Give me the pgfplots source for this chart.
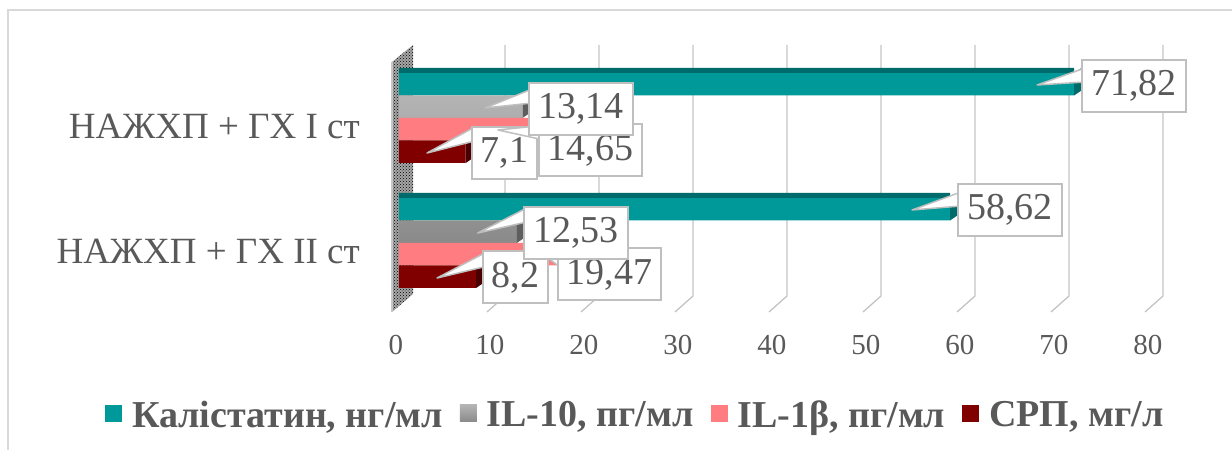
\documentclass[border=0pt]{standalone}
\usepackage{fontspec}
\setmainfont{Liberation Serif}
\usepackage{pgfplots}
\pgfplotsset{compat=1.18}
\usepackage{pgfplotstable}
\usetikzlibrary{patterns}

\definecolor{kal}{HTML}{009999}
\definecolor{kalside}{HTML}{006B6B}
\definecolor{iltentop}{HTML}{B4B4B4}
\definecolor{iltenbot}{HTML}{8A8A8A}
\definecolor{iltenside}{HTML}{5E5E5E}
\definecolor{ilbeta}{HTML}{FF7C80}
\definecolor{ilbetaside}{HTML}{C8585C}
\definecolor{srp}{HTML}{800000}
\definecolor{srpside}{HTML}{4A0000}
\definecolor{txt}{HTML}{595959}
\definecolor{boxline}{HTML}{BFBFBF}
\definecolor{gridc}{HTML}{C4C4C4}
\definecolor{framec}{HTML}{D9D9D9}

% c = category (1: I ст, 0: II ст), v = value.
% Offsets in pt from the bar end at the category line:
% dx/dy = label box centre, px/py = callout tip, bx/by = callout base on the box edge
\pgfplotstableread{
c v dx dy px py bx by
1 71.82 60 32 -37 33 11 43
0 58.62 60 33 -38 33 11 44
}\kaldata
\pgfplotstableread{
c v dx dy px py bx by
1 13.14 58.5 9 -37.5 10 9.5 22
0 12.53 59 10 -39 10 10 28
}\iltendata
\pgfplotstableread{
c v dx dy px py bx by
1 14.65 54 -32.5 -38.7 -12 5 -14.5
0 19.47 27.5 -31.5 -34 -15 -21.5 -17.5
}\ilbetadata
\pgfplotstableread{
c v dx dy px py bx by
1 7.1 39 -35 -38.7 -35 9 -16
0 8.2 39.5 -34.5 -39 -35 9.5 -16.5
}\srpdata

% right-hand face of a 3D bar, one mark per bar slot
\newcommand\declsidemark[2]{%
  \pgfdeclareplotmark{#1}{%
    \pgfpathmoveto{\pgfpoint{0pt}{#2pt-11.25pt}}%
    \pgfpathlineto{\pgfpoint{0pt}{#2pt+11.25pt}}%
    \pgfpathlineto{\pgfpoint{8pt}{#2pt+16.75pt}}%
    \pgfpathlineto{\pgfpoint{8pt}{#2pt-5.75pt}}%
    \pgfpathclose\pgfusepathqfill}}
\declsidemark{sideA}{33.75}
\declsidemark{sideB}{11.25}
\declsidemark{sideC}{-11.25}
\declsidemark{sideD}{-33.75}

% pointer of a value callout
\pgfdeclareplotmark{wedge}{%
  \pgfpathmoveto{\pgfpoint{\ptrx pt}{\ptry pt}}%
  \pgfpathlineto{\pgfpoint{\basex pt}{\basey pt+7pt}}%
  \pgfpathlineto{\pgfpoint{\basex pt}{\basey pt-7pt}}%
  \pgfpathclose\pgfusepathqfillstroke}

\pgfplotsset{
  sqlegend/.style={legend image code/.code={\fill[##1,draw=none] (0pt,-7pt) rectangle (17pt,10pt);}},
  barA/.style={xbar, bar width=22.5pt, bar shift=33.75pt, draw=none},
  barB/.style={xbar, bar width=22.5pt, bar shift=11.25pt, draw=none},
  barC/.style={xbar, bar width=22.5pt, bar shift=-11.25pt, draw=none},
  barD/.style={xbar, bar width=22.5pt, bar shift=-33.75pt, draw=none},
  ptr/.style={only marks, mark=wedge, forget plot,
    visualization depends on={\thisrow{px}\as\ptrx},
    visualization depends on={\thisrow{py}\as\ptry},
    visualization depends on={\thisrow{bx}\as\basex},
    visualization depends on={\thisrow{by}\as\basey},
    mark options={solid, fill=white, draw=boxline, line width=1.5pt, line join=round}},
  lbl/.style={xbar, bar width=22.5pt, draw=none, fill=none, forget plot, point meta=x,
    nodes near coords,
    visualization depends on={\thisrow{dx}\as\lblx},
    visualization depends on={\thisrow{dy}\as\lbly},
    every node near coord/.append style={
      rectangle, anchor=center, draw=boxline, line width=2pt, fill=white,
      text=txt, font=\fontsize{38}{40}\selectfont,
      minimum height=52pt, inner xsep=9pt,
      xshift=\lblx pt, yshift=\lbly pt}},
}

\begin{document}
\begin{tikzpicture}[x=1pt,y=1pt]
\useasboundingbox (0,0) rectangle (1232,450);
\draw[framec, line width=2pt] (8,0) -- (8,440) -- (1232,440);
% back wall and floor guide lines
\foreach \v in {10,20,...,80}{
  \draw[gridc, line width=1.3pt] ({411+9.4*\v},405) -- ({411+9.4*\v},154) -- ({393+9.4*\v},138);
}
% side wall
\fill[gray!70] (392,138) -- (392,388) -- (413,405) -- (413,156) -- cycle;
\fill[pattern=crosshatch dots, pattern color=black] (392,138) -- (392,388) -- (413,405) -- (413,156) -- cycle;
\draw[gray!45, line width=1.5pt] (392,138) -- (392,388);

\begin{axis}[
  at={(399pt,138pt)}, anchor=south west,
  scale only axis, width=752pt, height=267pt,
  xmin=0, xmax=80, ymin=-0.552, ymax=1.584,
  clip=false,
  axis line style={draw=none},
  tick style={draw=none},
  xtick={0,10,...,80},
  ytick={0,1},
  yticklabels={НАЖХП + ГХ ІІ ст, НАЖХП + ГХ І ст},
  /pgf/number format/.cd, use comma, 1000 sep={}, assume math mode=true, /pgfplots/.cd,
  xticklabel style={font=\fontsize{29}{30}\selectfont, text=txt, anchor=north, inner sep=0pt, yshift=-23pt, xshift=-3pt},
  yticklabel style={font=\fontsize{37}{40}\selectfont, text=txt, anchor=east, inner sep=0pt, xshift=-39pt, yshift=-8pt},
  legend columns=4,
  legend cell align=left,
  legend style={at={(0.313,-0.385)}, anchor=center, draw=none, fill=none,
    font=\bfseries\fontsize{38}{40}\selectfont, text=txt,
    nodes={inner sep=0pt},
    /tikz/every odd column/.append style={column sep=10pt},
    /tikz/every even column/.append style={column sep=17pt}},
]
% bars
\addplot[barA, fill=kal, sqlegend] table[x=v,y=c]{\kaldata};
\addlegendentry{Калістатин, нг/мл}
\addplot[xbar, bar width=5pt, bar shift=47.5pt, draw=none, fill=kalside, forget plot] table[x=v,y=c]{\kaldata};
\addplot[only marks, mark=sideA, color=kalside, forget plot] table[x=v,y=c]{\kaldata};

\addplot[barB, top color=iltentop, bottom color=iltenbot, sqlegend] table[x=v,y=c]{\iltendata};
\addlegendentry{IL-10, пг/мл}
\addplot[only marks, mark=sideB, color=iltenside, forget plot] table[x=v,y=c]{\iltendata};

\addplot[barC, fill=ilbeta, sqlegend] table[x=v,y=c]{\ilbetadata};
\addlegendentry{IL-1β, пг/мл}
\addplot[only marks, mark=sideC, color=ilbetaside, forget plot] table[x=v,y=c]{\ilbetadata};

\addplot[barD, fill=srp, sqlegend] table[x=v,y=c]{\srpdata};
\addlegendentry{СРП, мг/л}
\addplot[only marks, mark=sideD, color=srpside, forget plot] table[x=v,y=c]{\srpdata};

% value callouts, each pointer drawn just before its box
\addplot[ptr] table[x=v,y=c]{\kaldata};
\addplot[lbl] table[x=v,y=c]{\kaldata};
\addplot[ptr] table[x=v,y=c]{\srpdata};
\addplot[lbl] table[x=v,y=c]{\srpdata};
\addplot[ptr] table[x=v,y=c]{\ilbetadata};
\addplot[lbl] table[x=v,y=c]{\ilbetadata};
\addplot[ptr] table[x=v,y=c]{\iltendata};
\addplot[lbl] table[x=v,y=c]{\iltendata};
\end{axis}
\end{tikzpicture}
\end{document}
